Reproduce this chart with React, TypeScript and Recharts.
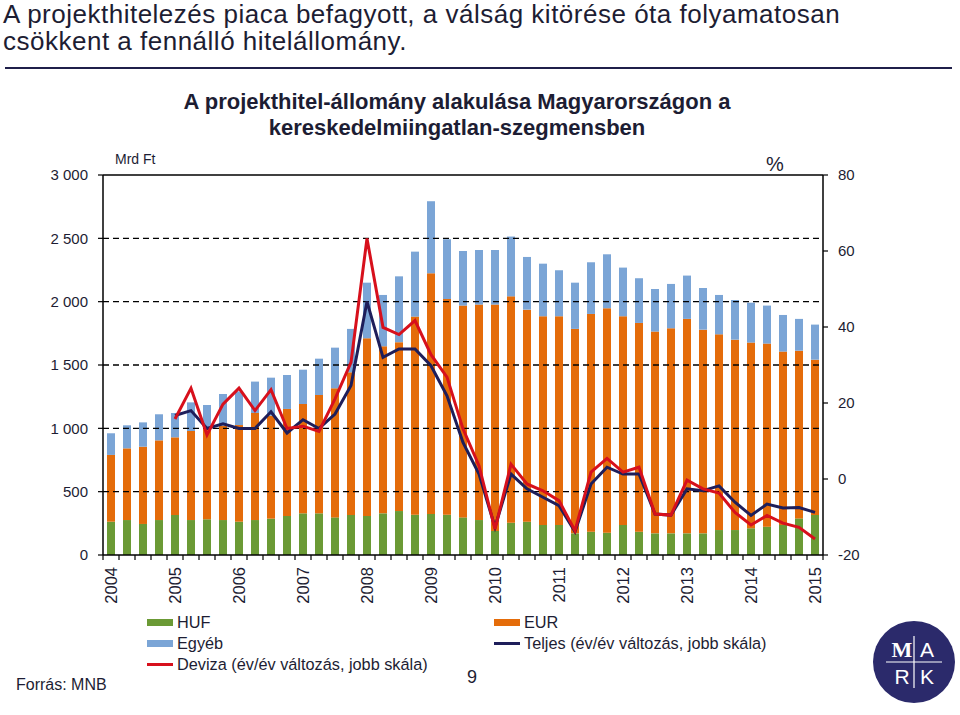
import React from 'react';
import { ComposedChart, Bar, Line, XAxis, YAxis, ReferenceLine } from 'recharts';

const years = ['2004','2005','2006','2007','2008','2009','2010','2011','2012','2013','2014','2015'];
const quarterCount = 45;

const huf = [263,276,245,276, 316,276,282,276, 263,276,287,308, 329,329,297,316, 308,329,347,318, 324,318,297,276, 190,255,263,237, 237,171,184,176, 237,184,171,171, 171,171,197,197, 211,224,237,289, 316];
const eur = [527,566,610,629, 613,703,718,745, 763,845,813,845, 863,934,1019,1126, 1403,1319,1333,1564, 1900,1703,1672,1701, 1787,1787,1674,1648, 1648,1614,1719,1772, 1648,1648,1593,1619, 1693,1608,1545,1503, 1466,1445,1369,1324, 1226];
const egyeb = [171,182,192,206, 192,226,184,250, 266,248,300,268, 271,287,321,343, 439,405,520,513, 569,472,431,431, 431,472,416,415, 363,365,408,426, 384,353,336,350, 342,329,311,313, 315,300,289,251, 277];
const teljes = [null,null,null,null, 16.7,18.0,13.3,14.5, 13.3,13.3,17.7,12.1, 15.6,13.3,17.1,24.6, 46.7,32.0,34.2,34.2, 29.8,21.9,9.6,1.3, -12.7,1.3,-2.6,-4.8, -7.0,-13.9,-1.3,3.1, 1.3,1.3,-9.2,-9.5, -2.6,-3.1,-1.8,-6.1, -9.6,-6.6,-7.6,-7.5, -8.8];
const deviza = [null,null,null,null, 15.8,23.9,11.6,19.7, 23.9,18.0,23.5,13.3, 13.9,12.5,21.1,30.7, 63.3,39.9,38.0,41.7, 32.7,26.8,13.2,3.5, -13.2,3.9,-1.3,-3.1, -5.7,-13.6,1.8,5.4, 1.8,3.1,-9.2,-9.5, -0.3,-2.6,-3.7,-8.8, -12.1,-9.6,-11.6,-12.7, -15.8];

const leftTicks = [0, 500, 1000, 1500, 2000, 2500, 3000];
const rightTicks = [-20, 0, 20, 40, 60, 80];
const gridValues = [500, 1000, 1500, 2000, 2500];

const quarters: string[] = [];
for (let i = 0; i < quarterCount; i++) {
  quarters.push(`${years[Math.floor(i / 4)]}Q${(i % 4) + 1}`);
}

const data = quarters.map((q, i) => ({
  q,
  huf: huf[i],
  eur: eur[i],
  egyeb: egyeb[i],
  teljes: teljes[i],
  deviza: deviza[i],
}));

const C_HUF = '#6b9a35';
const C_EUR = '#e46c0a';
const C_EGY = '#7ba5d6';
const C_RED = '#d7101c';
const C_NAVY = '#1e1e5a';
const TXT = '#1d1d33';
const FONT = '"Liberation Sans", Arial, sans-serif';

const W = 960, H = 715;
const M = { top: 175, right: 77, bottom: 100, left: 43 };
const YW = 60, XH = 60;
const PLOT_W = W - M.left - M.right - 2 * YW;
const BAND = PLOT_W / quarterCount;

const fmtLeft = (v: number) => (v >= 1000 ? `${Math.floor(v / 1000)} ${String(v % 1000).padStart(3, '0')}` : String(v));

const XTick = (props: any) => {
  const { x, y, payload, index } = props;
  const name: string = payload.value;
  const isQ1 = name.endsWith('Q1');
  const left = x - BAND / 2;
  return (
    <g>
      <line x1={left} y1={y} x2={left} y2={y + 5} stroke="#000" strokeWidth={1.2} />
      {index === quarterCount - 1 && (
        <line x1={x + BAND / 2} y1={y} x2={x + BAND / 2} y2={y + 5} stroke="#000" strokeWidth={1.2} />
      )}
      {isQ1 && (
        <text
          transform={`translate(${x + 6},${y + 12}) rotate(-90)`}
          textAnchor="end"
          fontSize={16.5}
          fontFamily={FONT}
          fill={TXT}
        >
          {name.slice(0, 4)}
        </text>
      )}
    </g>
  );
};

const LegendItem = ({ x, y, color, label, line }: any) => (
  <div style={{ position: 'absolute', left: x, top: y - 10, height: 20, display: 'flex', alignItems: 'center', whiteSpace: 'nowrap' }}>
    <div style={{ width: 26, height: line ? 3 : 7, background: color, marginRight: 4 }} />
    <span style={{ fontSize: 16.3, color: TXT }}>{label}</span>
  </div>
);

const headStyle: React.CSSProperties = { position: 'absolute', left: 3, fontSize: 26, lineHeight: '27px', letterSpacing: 0.5, whiteSpace: 'nowrap' };

export default function App() {
  return (
    <div style={{ position: 'absolute', left: 0, top: 0, width: W, height: H, background: '#fff', fontFamily: FONT, color: TXT, overflow: 'hidden' }}>
      <div style={{ ...headStyle, top: 1 }}>A projekthitelezés piaca befagyott, a válság kitörése óta folyamatosan</div>
      <div style={{ ...headStyle, top: 28 }}>csökkent a fennálló  hitelállomány.</div>
      <div style={{ position: 'absolute', left: 5, top: 67, width: 947, height: 2, background: '#1f1f4a' }} />
      <div style={{ position: 'absolute', left: 107, width: 700, top: 89, textAlign: 'center', fontSize: 22, fontWeight: 'bold', lineHeight: '26px', whiteSpace: 'nowrap' }}>
        A projekthitel-állomány alakulása Magyarországon a
        <br />
        kereskedelmiingatlan-szegmensben
      </div>
      <div style={{ position: 'absolute', left: 115, top: 151, fontSize: 14 }}>Mrd Ft</div>
      <div style={{ position: 'absolute', left: 766, top: 153, fontSize: 20 }}>%</div>

      <div style={{ position: 'absolute', left: 0, top: 0 }}>
        <ComposedChart width={W} height={H} data={data} margin={M} barCategoryGap={0}>
          {gridValues.map((v) => (
            <ReferenceLine key={v} yAxisId="l" y={v} stroke="#000" strokeWidth={1.3} strokeDasharray="6 4" />
          ))}
          <ReferenceLine yAxisId="l" y={3000} stroke="#000" strokeWidth={1.5} />
          <XAxis
            dataKey="q"
            interval={0}
            height={XH}
            tickSize={0}
            tickMargin={0}
            tickLine={false}
            axisLine={{ stroke: '#000', strokeWidth: 1.5 }}
            tick={<XTick />}
          />
          <YAxis
            yAxisId="l"
            width={YW}
            domain={[0, 3000]}
            ticks={leftTicks}
            tickFormatter={fmtLeft}
            tickSize={5}
            tickMargin={10}
            axisLine={{ stroke: '#000', strokeWidth: 1.5 }}
            tickLine={{ stroke: '#000', strokeWidth: 1.2 }}
            tick={{ fontSize: 15, fill: TXT, fontFamily: FONT }}
          />
          <YAxis
            yAxisId="r"
            orientation="right"
            width={YW}
            domain={[-20, 80]}
            ticks={rightTicks}
            tickSize={5}
            tickMargin={10}
            axisLine={{ stroke: '#000', strokeWidth: 1.5 }}
            tickLine={{ stroke: '#000', strokeWidth: 1.2 }}
            tick={{ fontSize: 15, fill: TXT, fontFamily: FONT }}
          />
          <Bar yAxisId="l" dataKey="huf" stackId="a" fill={C_HUF} barSize={8} isAnimationActive={false} />
          <Bar yAxisId="l" dataKey="eur" stackId="a" fill={C_EUR} barSize={8} isAnimationActive={false} />
          <Bar yAxisId="l" dataKey="egyeb" stackId="a" fill={C_EGY} barSize={8} isAnimationActive={false} />
          <Line yAxisId="r" dataKey="teljes" stroke={C_NAVY} strokeWidth={3} dot={false} isAnimationActive={false} />
          <Line yAxisId="r" dataKey="deviza" stroke={C_RED} strokeWidth={3} dot={false} isAnimationActive={false} />
        </ComposedChart>
      </div>

      <LegendItem x={147} y={622} color={C_HUF} label="HUF" />
      <LegendItem x={147} y={643} color={C_EGY} label="Egyéb" />
      <LegendItem x={147} y={664} color={C_RED} label="Deviza (év/év változás, jobb skála)" line />
      <LegendItem x={494} y={622} color={C_EUR} label="EUR" />
      <LegendItem x={494} y={643} color={C_NAVY} label="Teljes (év/év változás, jobb skála)" line />

      <div style={{ position: 'absolute', left: 16, top: 676, fontSize: 16 }}>Forrás: MNB</div>
      <div style={{ position: 'absolute', left: 467, top: 667, fontSize: 18 }}>9</div>

      <svg style={{ position: 'absolute', left: 872, top: 620 }} width={84} height={84}>
        <circle cx={42} cy={42} r={41} fill="#2b2a6b" />
        <line x1={14} y1={42} x2={70} y2={42} stroke="#fff" strokeWidth={1.2} />
        <line x1={42} y1={16} x2={42} y2={68} stroke="#fff" strokeWidth={1.2} />
        <text x={30} y={37} textAnchor="middle" fontSize={22} fontWeight="bold" fontFamily="Liberation Serif, serif" fill="#fff">M</text>
        <text x={55} y={37} textAnchor="middle" fontSize={21} fontFamily={FONT} fill="#fff">A</text>
        <text x={30} y={64} textAnchor="middle" fontSize={21} fontFamily={FONT} fill="#fff">R</text>
        <text x={55} y={64} textAnchor="middle" fontSize={21} fontFamily={FONT} fill="#fff">K</text>
      </svg>
    </div>
  );
}
